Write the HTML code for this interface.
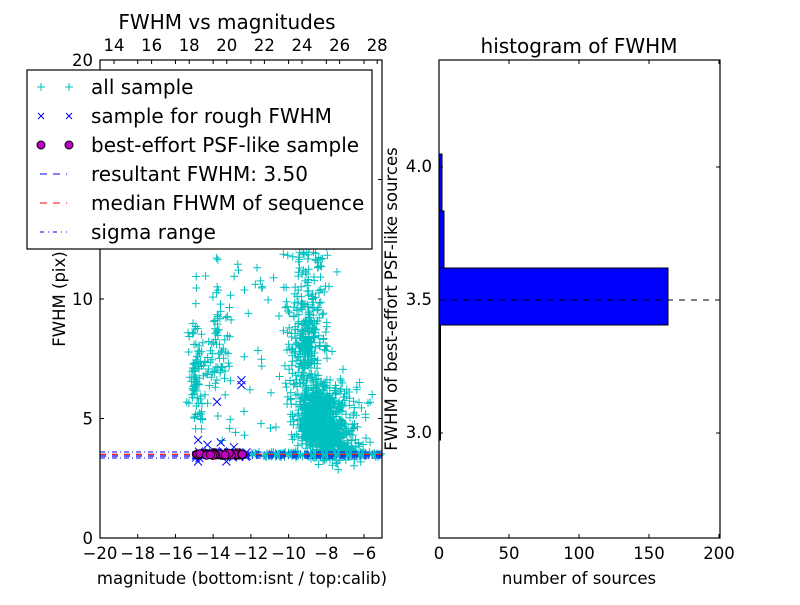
<!DOCTYPE html>
<html><head><meta charset="utf-8"><style>
body{margin:0;background:#fff;}
svg{font-family:"DejaVu Sans","Liberation Sans",sans-serif;}
</style></head><body>
<svg id="s" width="800" height="600" viewBox="0 0 800 600" xmlns="http://www.w3.org/2000/svg">
<rect width="800" height="600" fill="#fff"/>
<g id="pts"></g>
<line x1="100" y1="454.3" x2="382" y2="454.3" stroke="#f00" stroke-width="1.2" stroke-dasharray="6,6"/>
<line x1="100" y1="456" x2="382" y2="456" stroke="#00f" stroke-width="1.2" stroke-dasharray="6,6"/>
<line x1="100" y1="452" x2="382" y2="452" stroke="#00f" stroke-width="1" stroke-dasharray="5,3,1,3"/>
<line x1="100" y1="458" x2="382" y2="458" stroke="#00f" stroke-width="1" stroke-dasharray="5,3,1,3"/>
<g id="best"></g>
<rect x="100" y="60" width="282" height="478" fill="none" stroke="#000" stroke-width="1.2"/>
<g id="lt" stroke="#000" stroke-width="1"></g>
<g font-size="16.5" fill="#000" text-anchor="middle" id="ltx"></g>
<text x="227" y="29" font-size="20" text-anchor="middle">FWHM vs magnitudes</text>
<text x="242" y="584" font-size="16.5" text-anchor="middle">magnitude (bottom:isnt / top:calib)</text>
<text transform="translate(65,299) rotate(-90)" font-size="16.5" text-anchor="middle">FWHM (pix)</text>
<rect x="27" y="70" width="345" height="179" fill="#fff" stroke="#000" stroke-width="1.2"/>
<g font-size="20" fill="#000">
<text x="91" y="94">all sample</text>
<text x="91" y="123">sample for rough FWHM</text>
<text x="91" y="152">best-effort PSF-like sample</text>
<text x="91" y="181">resultant FWHM: 3.50</text>
<text x="91" y="210">median FHWM of sequence</text>
<text x="91" y="239">sigma range</text>
</g>
<g stroke="#00bfbf" stroke-width="1"><path d="M37 87h8M41 83v8M65 87h8M69 83v8"/></g>
<g stroke="#00f" stroke-width="1"><path d="M38 113l6 6M44 113l-6 6M66 113l6 6M72 113l-6 6"/></g>
<circle cx="41" cy="145" r="4" fill="#bf00bf" stroke="#000"/><circle cx="69" cy="145" r="4" fill="#bf00bf" stroke="#000"/>
<line x1="40" y1="174" x2="67" y2="174" stroke="#00f" stroke-dasharray="7,6"/>
<line x1="40" y1="203" x2="67" y2="203" stroke="#f00" stroke-dasharray="7,6"/>
<line x1="40" y1="232" x2="67" y2="232" stroke="#00f" stroke-dasharray="4,4,1,4"/>
<g fill="#00f" stroke="#000" stroke-width="1">
<rect x="439" y="154" width="3" height="57"/>
<rect x="439" y="211" width="5" height="57"/>
<rect x="439" y="268" width="229" height="57"/>
<rect x="439" y="325" width="1.5" height="115"/>
</g>
<line x1="439" y1="300" x2="720" y2="300" stroke="#000" stroke-dasharray="6,6"/>
<rect x="439" y="60" width="281" height="478" fill="none" stroke="#000" stroke-width="1.2"/>
<g stroke="#000">
<path d="M439 167h4M720 167h-4M439 300h4M720 300h-4M439 433h4M720 433h-4"/>
<path d="M439 538v-4M509 538v-4M579 538v-4M649 538v-4M719 538v-4M439 60v4M509 60v4M579 60v4M649 60v4M719 60v4"/>
</g>
<g font-size="16.5" text-anchor="end">
<text x="432" y="172">4.0</text><text x="432" y="305">3.5</text><text x="432" y="438">3.0</text>
</g>
<g font-size="16.5" text-anchor="middle">
<text x="439" y="559">0</text><text x="509" y="559">50</text><text x="579" y="559">100</text><text x="649" y="559">150</text><text x="719" y="559">200</text>
</g>
<text x="579" y="53" font-size="20" text-anchor="middle">histogram of FWHM</text>
<text x="579" y="584" font-size="16.5" text-anchor="middle">number of sources</text>
<text transform="translate(397,299) rotate(-90)" font-size="16.5" text-anchor="middle">FWHM of best-effort PSF-like sources</text>
</svg>
<script>
(function(){
var NS="http://www.w3.org/2000/svg";
var seed=12345;function r(){seed=(seed*1103515245+12345)%2147483648;return seed/2147483648;}
function g(){return (r()+r()+r()+r()-2)/1.15;}
function px(m){return 100+(m+20)*18.86;} function py(f){return 538-f*23.9;}
var d="";
function plus(m,f){var x=px(m),y=py(f);if(x<100||x>382||y<60||y>538)return;d+="M"+(x-4).toFixed(1)+" "+y.toFixed(1)+"h8M"+x.toFixed(1)+" "+(y-4).toFixed(1)+"v8";}
var i;
for(i=0;i<600;i++){plus(-8.4+g()*1.1,5+g()*1.3);}
for(i=0;i<250;i++){plus(-9+g()*1.0,8+g()*2.2);}
for(i=0;i<180;i++){plus(-9+g()*1.4,13+g()*4);}
for(i=0;i<220;i++){plus(-7.6+g()*1.4,4+g()*0.9);}
for(i=0;i<60;i++){plus(-7+g()*1.3,5.5+g()*1.5);}
for(i=0;i<200;i++){plus(-12+r()*7,3.5+g()*0.12);}
for(i=0;i<80;i++){plus(-14.9+g()*0.4,7+g()*2.5);}
for(i=0;i<60;i++){plus(-13.8+g()*0.6,8+g()*2);}
for(i=0;i<40;i++){plus(-11.5+r()*2.5,4.5+r()*7);}
for(i=0;i<40;i++){plus(-15.5+r()*4,4+r()*8);}
var p=document.createElementNS(NS,"path");p.setAttribute("d",d);p.setAttribute("stroke","#00bfbf");p.setAttribute("fill","none");p.setAttribute("stroke-width","1");
document.getElementById("pts").appendChild(p);
var b=document.getElementById("best"),dx="";
var xs=[[-13.8,5.7],[-12.5,6.6],[-12.5,6.4],[-14.8,3.2],[-13.3,3.2],[-14.8,4.1],[-13.6,4],[-14.3,3.9],[-12.9,3.8]];
for(i=0;i<40;i++)xs.push([-15+r()*2.8,3.5+g()*0.15]);
xs.forEach(function(a){var x=px(a[0]),y=py(a[1]);dx+="M"+(x-4)+" "+(y-4)+"l8 8M"+(x+4)+" "+(y-4)+"l-8 8";});
var q=document.createElementNS(NS,"path");q.setAttribute("d",dx);q.setAttribute("stroke","#00f");q.setAttribute("fill","none");b.appendChild(q);
for(i=0;i<60;i++){var c=document.createElementNS(NS,"circle");c.setAttribute("cx",px(-14.9+r()*2.65));c.setAttribute("cy",py(3.5+g()*0.05));c.setAttribute("r","4");c.setAttribute("fill","#bf00bf");c.setAttribute("stroke","#000");c.setAttribute("stroke-width","0.8");b.appendChild(c);}
var t="",lt=document.getElementById("ltx"),s="";
for(var m=-20;m<=-6;m+=2){var x=px(m);t+="M"+x+" 538v-4M"+x+" 60v4";s+='<text x="'+x+'" y="559">'+(m<0?"\u2212"+(-m):m)+'</text>';}
for(var k=14;k<=28;k+=2){var x2=114+(k-14)*18.8;s+='<text x="'+x2+'" y="51">'+k+'</text>';t+="M"+x2+" 60v4";}
[0,5,10,15,20].forEach(function(f){var y=py(f);t+="M100 "+y+"h4M382 "+y+"h-4";s+='<text x="93" y="'+(y+6)+'" text-anchor="end">'+f+'</text>';});
lt.innerHTML=s;
var tp=document.createElementNS(NS,"path");tp.setAttribute("d",t);document.getElementById("lt").appendChild(tp);
})();
</script>
</body></html>
